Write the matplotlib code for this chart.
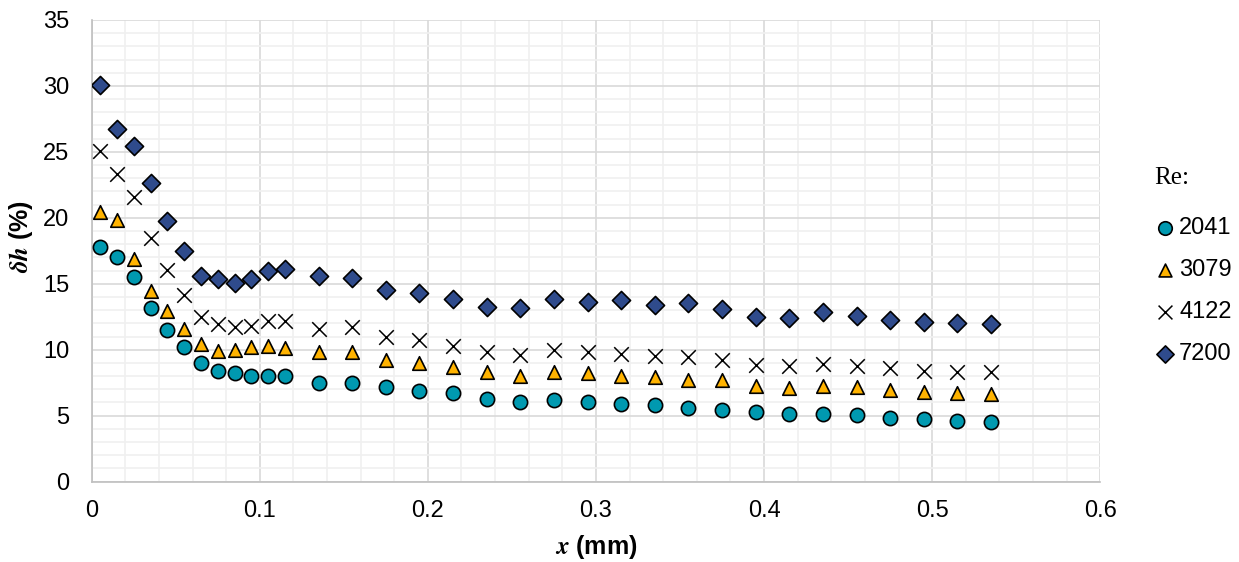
import matplotlib
matplotlib.use('Agg')
import matplotlib.pyplot as plt
from matplotlib.ticker import MultipleLocator

# x positions (mm)
x_vals = [0.005, 0.015, 0.025, 0.035, 0.045, 0.055, 0.065, 0.075, 0.085, 0.095,
          0.105, 0.115, 0.135, 0.155, 0.175, 0.195, 0.215, 0.235, 0.255, 0.275,
          0.295, 0.315, 0.335, 0.355, 0.375, 0.395, 0.415, 0.435, 0.455, 0.475,
          0.495, 0.515, 0.535]

re_2041 = [17.8, 17.0, 15.5, 13.2, 11.5, 10.2, 9.0, 8.4, 8.2, 8.0,
           8.0, 8.0, 7.5, 7.5, 7.2, 6.9, 6.7, 6.3, 6.0, 6.2,
           6.0, 5.85, 5.8, 5.6, 5.45, 5.25, 5.1, 5.1, 5.03, 4.85,
           4.75, 4.6, 4.52]
re_3079 = [20.45, 19.8, 16.9, 14.45, 12.9, 11.6, 10.4, 9.9, 9.95, 10.2,
           10.3, 10.15, 9.8, 9.85, 9.2, 9.0, 8.67, 8.33, 8.03, 8.33,
           8.2, 8.03, 7.9, 7.7, 7.68, 7.25, 7.1, 7.26, 7.15, 6.95,
           6.82, 6.7, 6.64]
re_4122 = [25.05, 23.3, 21.6, 18.5, 16.05, 14.15, 12.45, 11.95, 11.7, 11.8,
           12.17, 12.2, 11.6, 11.7, 10.95, 10.75, 10.25, 9.8, 9.62, 9.98,
           9.8, 9.67, 9.52, 9.47, 9.22, 8.84, 8.76, 8.92, 8.76, 8.59,
           8.41, 8.33, 8.28]
re_7200 = [30.1, 26.75, 25.45, 22.65, 19.75, 17.5, 15.6, 15.33, 15.08, 15.33,
           15.98, 16.15, 15.6, 15.43, 14.5, 14.3, 13.85, 13.26, 13.16, 13.82,
           13.64, 13.77, 13.39, 13.56, 13.11, 12.5, 12.43, 12.86, 12.53, 12.25,
           12.08, 12.05, 11.97]

x_ticks = [0, 0.1, 0.2, 0.3, 0.4, 0.5, 0.6]
x_tick_labels = ['0', '0.1', '0.2', '0.3', '0.4', '0.5', '0.6']

plt.rcParams['font.family'] = ['Liberation Sans', 'DejaVu Sans']
plt.rcParams['mathtext.fontset'] = 'stix'

fig = plt.figure(figsize=(12.39, 5.62), dpi=100)
ax = fig.add_axes([0.074, 0.143, 0.814, 0.8215])

ax.scatter(x_vals, re_2041, s=105, marker='o', color='#0099B0', edgecolors='black',
           linewidths=1.2, label='2041', zorder=3)
ax.scatter(x_vals, re_3079, s=95, marker='^', color='#FFB300', edgecolors='black',
           linewidths=1.2, label='3079', zorder=3)
ax.scatter(x_vals, re_4122, s=110, marker='x', color='black',
           linewidths=1.1, label='4122', zorder=3)
ax.scatter(x_vals, re_7200, s=85, marker='D', color='#2F4B8C', edgecolors='black',
           linewidths=1.2, label='7200', zorder=3)

ax.set_xlim(0, 0.6)
ax.set_ylim(0, 35)
ax.xaxis.set_minor_locator(MultipleLocator(0.02))
ax.yaxis.set_major_locator(MultipleLocator(5))
ax.yaxis.set_minor_locator(MultipleLocator(1))
ax.set_xticks(x_ticks)
ax.set_xticklabels(x_tick_labels)

ax.grid(which='major', color='#D9D9D9', linewidth=1.2, zorder=0)
ax.grid(which='minor', color='#F0F0F0', linewidth=1.2, zorder=0)
ax.set_axisbelow(True)
ax.tick_params(which='both', length=0, labelsize=17)
ax.tick_params(axis='x', pad=13)
ax.tick_params(axis='y', pad=16)

for side in ['top', 'right']:
    ax.spines[side].set_visible(False)
for side in ['left', 'bottom']:
    ax.spines[side].set_color('#BFBFBF')
    ax.spines[side].set_linewidth(1.2)

ax.set_xlabel(r'$\mathbfit{x}$ (mm)', fontsize=18, fontweight='bold', labelpad=8)
ax.set_ylabel(r'$\mathbfit{\delta h}$ (%)', fontsize=18, fontweight='bold', labelpad=6, y=0.53)

# legend title drawn separately so the gap below it matches
fig.text(0.9315, 1 - 178 / 562, 'Re:', family='Liberation Serif', fontsize=18,
         ha='left', va='center')
fig.legend(loc='upper left', bbox_to_anchor=(0.9327, 0.614), frameon=False,
           fontsize=17, borderpad=0, borderaxespad=0, handlelength=0.8,
           handletextpad=0.2, labelspacing=0.85, markerscale=0.95)

fig.savefig('out.png', dpi=100)
